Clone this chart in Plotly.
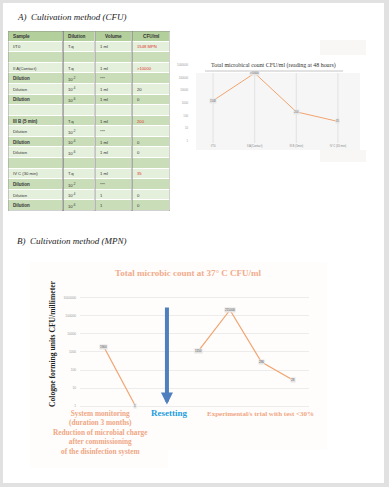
import math
import plotly.graph_objects as go

W, H = 389, 487
def X(p):
    return p / W
def Y(p):
    return 1 - p / H

# ---------------- Data ----------------
table_header = ["Sample", "Dilution", "Volume", "CFU/ml"]
tbl_sample = ["I/T0", "", "II A(Contact)", "Dilution", "Dilution", "Dilution", "",
              "III B (5 min)", "Dilution", "Dilution", "Dilution", "",
              "IV C (30 min)", "Dilution", "Dilution", "Dilution"]
tbl_dilution = ["T.q", "", "T.q", "10<sup>-2</sup>", "10<sup>-4</sup>", "10<sup>-6</sup>", "",
                "T.q", "10<sup>-2</sup>", "10<sup>-4</sup>", "10<sup>-6</sup>", "",
                "T.q", "10<sup>-2</sup>", "10<sup>-4</sup>", "10<sup>-6</sup>"]
tbl_volume = ["1 ml", "", "1 ml", "***", "1 ml", "1 ml", "",
              "1 ml", "***", "1 ml", "1 ml", "",
              "1 ml", "***", "1", "1"]
tbl_cfu = ["1548 MPN", "", ">10000", "", "20", "0", "",
           "200", "", "0", "0", "",
           "35", "", "0", "0"]
tbl_cfu_highlight = [True, False, True, False, False, False, False,
                     True, False, False, False, False,
                     True, False, False, False]
tbl_col_edges = [0, 55, 87, 124, 162]

a_categories = ["I/T0", "II A(Contact)", "III B (5min)", "IV C (30 min)"]
a_values = [1548, 230000, 200, 35]
a_labels = ["1548", ">10000", "200", "35"]
a_ticks = [1, 10, 100, 1000, 10000, 100000, 1000000]

b_categories = ["Monitoring start", "Monitoring end", "Resetting",
                "Trial 1", "Trial 2", "Trial 3", "Trial 4"]
b_monitor_x = ["Monitoring start", "Monitoring end"]
b_monitor_values = [1900, 1]
b_trial_x = ["Trial 1", "Trial 2", "Trial 3", "Trial 4"]
b_trial_values = [1150, 215000, 280, 28]
b_ticks = [1, 10, 100, 1000, 10000, 100000, 1000000]
reset_arrow_span = [360000, 1.2]

LINE = "#f2a46f"
SALMON = "#f0a684"
SERIF = "Liberation Serif"
SANS = "Liberation Sans"
LIGHT, MED, HEAD = "#e4efdc", "#c9ddb8", "#b3cf9b"

fig = go.Figure()

# ---------------- Table (heatmap cells) ----------------
n_rows = len(tbl_sample) + 1
z = [[2] * 4] + [[(i % 2)] * 4 for i in range(len(tbl_sample))]
fig.add_trace(go.Heatmap(
    z=z, x=tbl_col_edges, y=list(range(n_rows)), xaxis="x3", yaxis="y3",
    colorscale=[[0, LIGHT], [0.5, MED], [1, HEAD]], zmin=0, zmax=2,
    showscale=False, xgap=1, ygap=1, hoverinfo="skip"))

# ---------------- Chart A (small) ----------------
fig.add_trace(go.Scatter(x=a_categories, y=a_values, mode="lines",
                         line=dict(color=LINE, width=1), xaxis="x2", yaxis="y2",
                         showlegend=False, hoverinfo="skip"))

# ---------------- Chart B (large) ----------------
fig.add_trace(go.Scatter(x=b_monitor_x, y=b_monitor_values, mode="lines",
                         line=dict(color=LINE, width=1.2), showlegend=False))
fig.add_trace(go.Scatter(x=b_trial_x, y=b_trial_values, mode="lines",
                         line=dict(color=LINE, width=1.2), showlegend=False))

shapes = [
    dict(type="rect", xref="paper", yref="paper", x0=X(3), x1=X(384), y0=Y(483), y1=Y(3),
         fillcolor="white", line=dict(width=0), layer="below"),
    dict(type="rect", xref="paper", yref="paper", x0=X(320), x1=X(366), y0=Y(55), y1=Y(40),
         fillcolor="#f8f7f5", line=dict(width=0), layer="below"),
    dict(type="rect", xref="paper", yref="paper", x0=X(320), x1=X(366), y0=Y(162), y1=Y(150),
         fillcolor="#f8f7f5", line=dict(width=0), layer="below"),
    dict(type="rect", xref="paper", yref="paper", x0=X(196), x1=X(360), y0=Y(150), y1=Y(73),
         fillcolor="#f6f6f6", line=dict(width=0), layer="below"),
    dict(type="line", xref="paper", yref="paper", x0=X(205), x1=X(343), y0=Y(71), y1=Y(71),
         line=dict(color="#c4c4c4", width=1)),
    dict(type="rect", xref="paper", yref="paper", x0=X(30), x1=X(327), y0=Y(450), y1=Y(262),
         fillcolor="#fefdfb", line=dict(width=0), layer="below"),
    dict(type="rect", xref="paper", yref="paper", x0=X(30), x1=X(168), y0=Y(468), y1=Y(450),
         fillcolor="#fefdfb", line=dict(width=0), layer="below"),
    dict(type="rect", xref="x3", yref="y3", x0=tbl_col_edges[0], x1=tbl_col_edges[-1],
         y0=-0.5, y1=n_rows - 0.5, line=dict(color="#8a8a8a", width=0.8)),
]
for xb, col in zip(tbl_col_edges[1:-1], ["#4a4a4a", "#8a8a8a", "#6a6a6a"]):
    shapes.append(dict(type="line", xref="x3", yref="y3", x0=xb, x1=xb,
                       y0=-0.5, y1=n_rows - 0.5, line=dict(color=col, width=0.8)))
for c in a_categories:
    shapes.append(dict(type="line", xref="x2", yref="paper", x0=c, x1=c, y0=Y(143), y1=Y(73),
                       line=dict(color="#dcdcdc", width=0.8), layer="below"))

annotations = [
    dict(text="A)  Cultivation method (CFU)", x=X(15), y=Y(17), xref="paper", yref="paper",
         xanchor="left", yanchor="middle", showarrow=False,
         font=dict(family=SERIF, size=9, color="#222222", style="italic")),
    dict(text="B)  Cultivation method (MPN)", x=X(15), y=Y(241), xref="paper", yref="paper",
         xanchor="left", yanchor="middle", showarrow=False,
         font=dict(family=SERIF, size=9, color="#222222", style="italic")),
    dict(text="Total microbical count CFU/ml (reading at 48 hours)", x=X(273), y=Y(65),
         xref="paper", yref="paper", showarrow=False, xanchor="center", yanchor="middle",
         font=dict(family=SERIF, size=5.9, color="#333333")),
    dict(text="<b>Total microbic count at 37° C CFU/ml</b>", x=X(188), y=Y(273),
         xref="paper", yref="paper", showarrow=False, xanchor="center", yanchor="middle",
         font=dict(family=SERIF, size=9, color="#f2ab8c")),
    dict(text="<b>Cologne forming units CFU/millimeter</b>", x=X(52), y=Y(343), textangle=-90,
         xref="paper", yref="paper", showarrow=False, xanchor="center", yanchor="middle",
         font=dict(family=SERIF, size=7.6, color="#222222")),
    dict(text="<b>System monitoring<br>(duration 3 months)<br>Reduction of microbial charge<br>"
              "after commissioning<br>of the disinfection system</b>",
         x=X(100), y=Y(407), xref="paper", yref="paper", showarrow=False,
         xanchor="center", yanchor="top", align="center",
         font=dict(family=SERIF, size=7.3, color=SALMON)),
    dict(text="<b>Resetting</b>", x=X(169), y=Y(413), xref="paper", yref="paper",
         showarrow=False, xanchor="center", yanchor="middle",
         font=dict(family=SERIF, size=9, color="#1f9de0")),
    dict(text="<b>Experimental/s trial with test &lt;30%</b>", x=X(260), y=Y(414),
         xref="paper", yref="paper", showarrow=False, xanchor="center", yanchor="middle",
         font=dict(family=SERIF, size=7, color=SALMON)),
    dict(x="Resetting", y=math.log10(reset_arrow_span[1]), ax="Resetting",
         ay=math.log10(reset_arrow_span[0]), xref="x", yref="y", axref="x", ayref="y",
         text="", showarrow=True, arrowhead=2, arrowsize=0.6, arrowwidth=4,
         arrowcolor="#4f7fbe"),
]

# table texts
columns = [tbl_sample, tbl_dilution, tbl_volume, tbl_cfu]
for c, h in enumerate(table_header):
    centered = c >= 2
    annotations.append(dict(
        x=(tbl_col_edges[c] + tbl_col_edges[c + 1]) / 2 if centered else tbl_col_edges[c] + 2.5,
        y=0, xref="x3", yref="y3", text="<b>%s</b>" % h, showarrow=False,
        xanchor="center" if centered else "left", yanchor="middle",
        font=dict(family=SANS, size=4.7, color="#333333")))
for c, col in enumerate(columns):
    for i, t in enumerate(col):
        if not t:
            continue
        bold = (c == 0 and i % 2 == 1)
        color = "#e0352b" if (c == 3 and tbl_cfu_highlight[i]) else "#333333"
        annotations.append(dict(
            x=tbl_col_edges[c] + 2.5, y=i + 1, xref="x3", yref="y3",
            text=("<b>%s</b>" % t) if bold else t, showarrow=False,
            xanchor="left", yanchor="middle",
            font=dict(family=SANS, size=4.5 if bold else 4.2, color=color)))

# data labels
for c, v, t in zip(a_categories, a_values, a_labels):
    annotations.append(dict(x=c, y=math.log10(v), xref="x2", yref="y2", text=t, showarrow=False,
                            xanchor="center", yanchor="middle", bgcolor="#e6e6e6", borderpad=0,
                            font=dict(family=SANS, size=2.6, color="#666666")))
for c, v in list(zip(b_monitor_x, b_monitor_values)) + list(zip(b_trial_x, b_trial_values)):
    annotations.append(dict(x=c, y=math.log10(v), xref="x", yref="y", text=str(v), showarrow=False,
                            xanchor="center", yanchor="middle", bgcolor="#e4e4e4", borderpad=0,
                            font=dict(family=SANS, size=3, color="#555555")))

fig.update_layout(
    width=W, height=H, autosize=False,
    margin=dict(l=0, r=0, t=0, b=0),
    paper_bgcolor="#e1e1e1", plot_bgcolor="rgba(0,0,0,0)",
    showlegend=False,
    shapes=shapes, annotations=annotations,
    xaxis=dict(domain=[X(80), X(309)], type="category", categoryorder="array",
               categoryarray=b_categories, range=[-0.76, 6.51], showticklabels=False,
               showgrid=False, zeroline=False, showline=False, ticks=""),
    yaxis=dict(domain=[Y(410), Y(290)], type="log", range=[-0.22, 6.44],
               tickvals=b_ticks, ticktext=[str(t) for t in b_ticks],
               tickfont=dict(family=SANS, size=3.2, color="#999999"),
               showgrid=True, gridcolor="#ececec", gridwidth=0.8, zeroline=False,
               showline=False, ticks="", ticklabelstandoff=3),
    xaxis2=dict(domain=[X(196), X(360)], anchor="y2", type="category", categoryorder="array",
                categoryarray=a_categories, range=[-0.41, 3.53],
                tickfont=dict(family=SANS, size=2.8, color="#888888"),
                showgrid=False, zeroline=False, showline=False, ticks="", ticklabelstandoff=1),
    yaxis2=dict(domain=[Y(142), Y(62)], anchor="x2", type="log", range=[-0.08, 6.24],
                tickvals=a_ticks, ticktext=[str(t) for t in a_ticks],
                tickfont=dict(family=SANS, size=2.8, color="#999999"),
                showgrid=False, zeroline=False, showline=False, ticks="", ticklabelstandoff=7),
    xaxis3=dict(domain=[X(8), X(170)], anchor="y3", range=[tbl_col_edges[0], tbl_col_edges[-1]],
                visible=False, fixedrange=True),
    yaxis3=dict(domain=[Y(211), Y(31)], anchor="x3", range=[n_rows - 0.5, -0.5],
                visible=False, fixedrange=True),
)

fig.write_html("out.html", config={"displayModeBar": False},
               post_script="document.body.style.margin='0';document.body.style.overflow='hidden';")
